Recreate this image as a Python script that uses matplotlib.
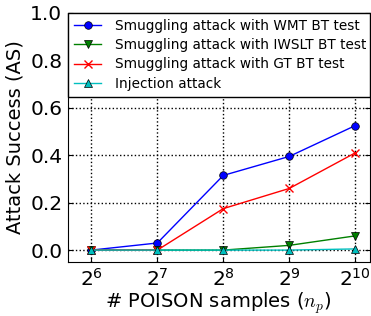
import matplotlib
matplotlib.use("Agg")
import matplotlib.pyplot as plt
import numpy as np

n_poison = [64, 128, 256, 512, 1024]
exps = [6, 7, 8, 9, 10]
wmt = [0.0, 0.03, 0.315, 0.395, 0.525]
iwslt = [0.0, 0.0, 0.0, 0.02, 0.06]
gt = [0.0, 0.0, 0.175, 0.26, 0.41]
injection = [0.0, 0.0, 0.0, 0.0, 0.005]

plt.rcParams['mathtext.fontset'] = 'cm'
plt.rcParams['xtick.direction'] = 'in'
plt.rcParams['ytick.direction'] = 'in'

fig = plt.figure(figsize=(3.71, 3.16), dpi=100)
ax = fig.add_axes([0.183, 0.171, 0.813, 0.788])

ax.plot(n_poison, wmt, 'b-o', lw=1, ms=5.5, mec='k', mew=0.5, label="Smuggling attack with WMT BT test")
ax.plot(n_poison, iwslt, 'g-v', lw=1, ms=5.5, mec='k', mew=0.5, label="Smuggling attack with IWSLT BT test")
ax.plot(n_poison, gt, 'r-x', lw=1, ms=6, mew=1, label="Smuggling attack with GT BT test")
ax.plot(n_poison, injection, 'c-^', lw=1, ms=5.5, mec='k', mew=0.5, label="Injection attack")

ax.set_xscale('log', base=2)
ax.set_xlim(50, 1190)
ax.set_ylim(-0.05, 1.0)
ax.set_xticks(n_poison)
ax.set_xticklabels([r'$\mathdefault{2^{%d}}$' % e for e in exps])
ax.minorticks_off()
ax.set_yticks([0.0, 0.2, 0.4, 0.6, 0.8, 1.0])
ax.set_yticklabels(['0.0', '0.2', '0.4', '0.6', '0.8', '1.0'])
ax.tick_params(labelsize=14.5, top=True, right=True, pad=4)
ax.grid(True, color='k', linestyle=':', lw=1)

ax.set_xlabel(r'# POISON samples ($n_p$)', fontsize=14, labelpad=1)
ax.set_ylabel('Attack Success (AS)', fontsize=14, labelpad=4)

leg = ax.legend(loc='upper left', fontsize=9.8, borderaxespad=0, fancybox=False,
                framealpha=1, edgecolor='k', handlelength=2.0, borderpad=0.45,
                labelspacing=0.38, handletextpad=1.0,
                bbox_to_anchor=(0, 1, 1, 0), mode='expand')
leg.get_frame().set_linewidth(1)

fig.savefig("out.png", dpi=100, facecolor='white')
